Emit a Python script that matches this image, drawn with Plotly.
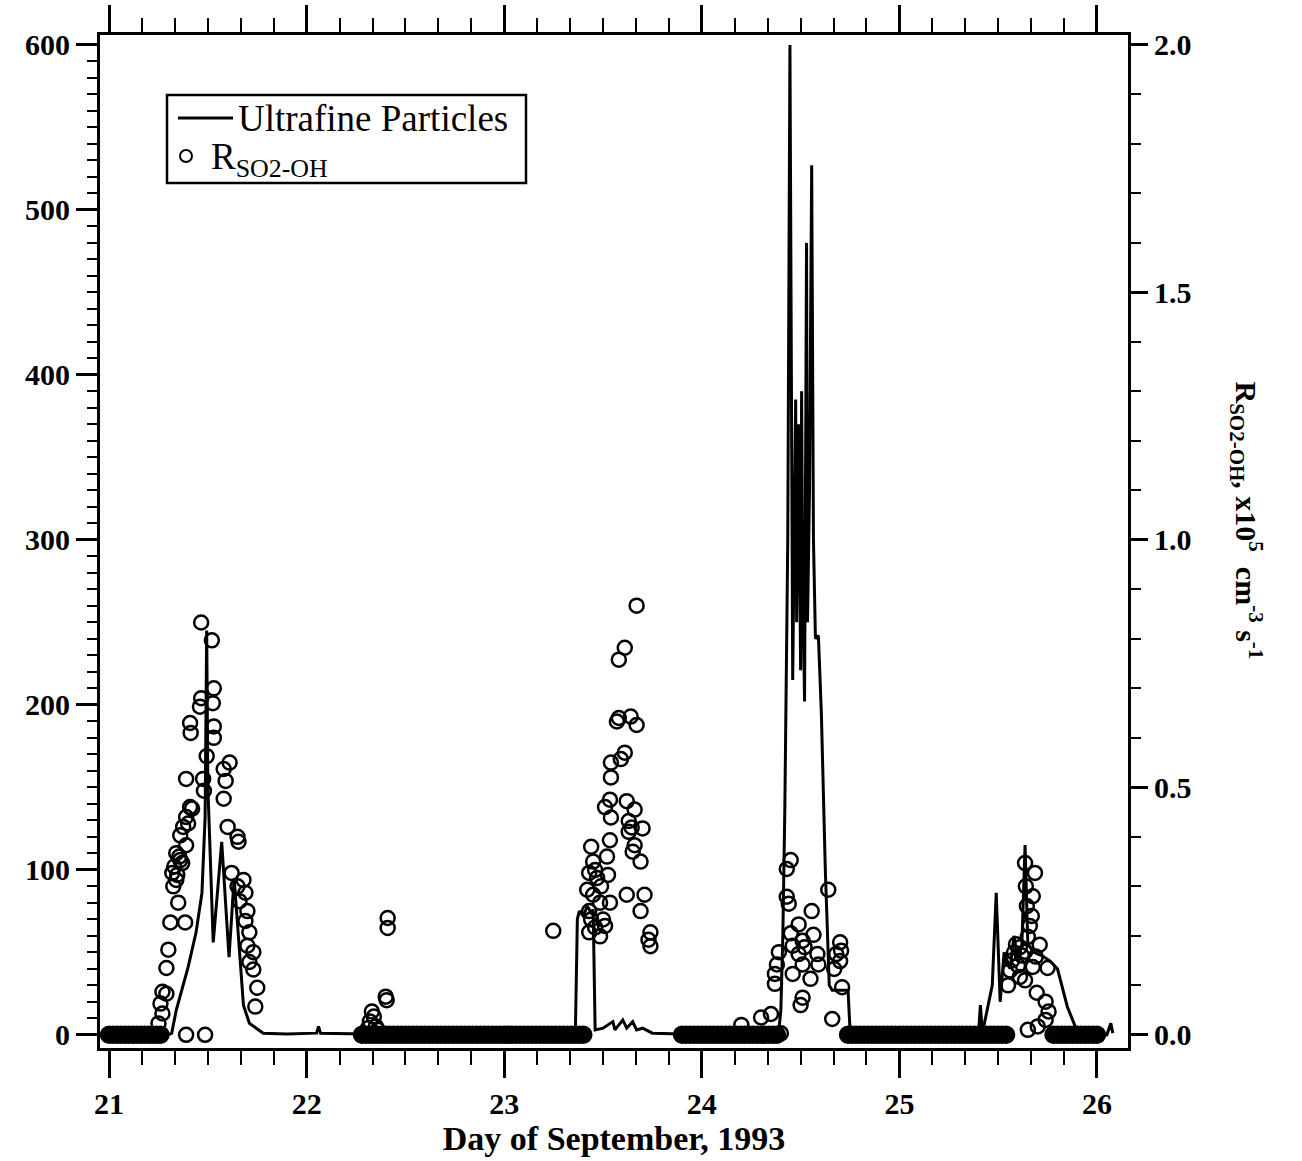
import plotly.graph_objects as go

# ---------------- data ----------------
# Ultrafine particles (left axis)
uf_day = [21.00, 21.30, 21.317, 21.34, 21.40, 21.44, 21.47, 21.486, 21.494, 21.50, 21.527, 21.57, 21.607,
          21.633, 21.68, 21.71, 21.78, 21.90, 22.05, 22.06, 22.07, 22.30, 22.60, 23.00, 23.36, 23.37, 23.38,
          23.40, 23.42, 23.44, 23.45, 23.46, 23.50, 23.55, 23.56, 23.60, 23.62, 23.65, 23.67, 23.70, 23.75,
          23.90, 24.30, 24.36, 24.39, 24.40, 24.41, 24.42, 24.435, 24.446, 24.455, 24.46, 24.475, 24.48,
          24.49, 24.50, 24.505, 24.51, 24.52, 24.53, 24.535, 24.545, 24.556, 24.565, 24.575, 24.59, 24.605,
          24.625, 24.645, 24.66, 24.74, 24.75, 25.00, 25.40, 25.41, 25.42, 25.47, 25.49, 25.51, 25.53,
          25.56, 25.58, 25.60, 25.62, 25.636, 25.65, 25.68, 25.72, 25.76, 25.80, 25.85, 25.89, 25.95,
          26.05, 26.07, 26.08]
uf_val = [0, 0, 1, 15, 41, 62, 86, 132, 245, 150, 56, 117, 47,
          95, 18, 7, 1, 0.5, 1, 5, 1, 0.5, 1, 1, 1, 70, 75,
          72, 78, 74, 76, 3, 4, 8, 3, 9, 4, 8, 3, 4, 1,
          0.5, 0.5, 1, 3, 15, 60, 136, 300, 600, 380, 215, 385, 250,
          370, 221, 390, 280, 202, 480, 250, 330, 527, 300, 240, 242, 195,
          100, 30, 27, 27, 3, 0.5, 0.5, 18, 1, 30, 86, 20, 50,
          40, 60, 45, 55, 115, 55, 50, 48, 45, 40, 17, 5, 1,
          0, 7, 1]

# R_SO2-OH (right axis, x10^5 cm-3 s-1) - non-zero observations
r_day = [21.466, 21.52, 21.53, 21.466, 21.525, 21.46, 21.41, 21.53, 21.413, 21.53, 21.494, 21.61, 21.58,
         21.59, 21.39, 21.58, 21.476, 21.48, 21.41, 21.39, 21.375, 21.36, 21.60, 21.65, 21.655, 21.39,
         21.34, 21.36, 21.33, 21.32, 21.34, 21.325, 21.35, 21.31, 21.385, 21.30, 21.29, 21.27, 21.29,
         21.26, 21.27, 21.25, 21.39, 21.486, 21.62, 21.68, 21.65, 21.69, 21.66, 21.70, 21.69, 21.71,
         21.70, 21.73, 21.71, 21.73, 21.75, 21.74, 21.355, 21.37, 21.345, 21.40, 21.42,
         22.41, 22.41, 22.40, 22.405, 22.34, 22.32, 22.33, 22.35, 22.36, 22.31, 23.248,
         23.67, 23.61, 23.58, 23.57, 23.58, 23.64, 23.67, 23.61, 23.59, 23.54, 23.54, 23.535, 23.51,
         23.54, 23.62, 23.66, 23.63, 23.645, 23.70, 23.63, 23.66, 23.65, 23.69, 23.535, 23.44, 23.52,
         23.45, 23.43, 23.525, 23.42, 23.49, 23.62, 23.71, 23.485, 23.535, 23.69, 23.50, 23.51, 23.74,
         23.73, 23.74, 23.485, 23.43, 23.44, 23.46, 23.45, 23.47, 23.43, 23.46,
         24.45, 24.43, 24.64, 24.43, 24.44, 24.556, 24.49, 24.45, 24.565, 24.51, 24.70, 24.705, 24.52,
         24.46, 24.585, 24.49, 24.68, 24.70, 24.39, 24.38, 24.51, 24.59, 24.46, 24.67, 24.37, 24.55,
         24.37, 24.71, 24.51, 24.50, 24.35, 24.66, 24.20, 24.30, 24.40,
         25.636, 25.686, 25.675, 25.67, 25.66, 25.65, 25.61, 25.71, 25.58, 25.636, 25.69, 25.56, 25.675,
         25.75, 25.61, 25.636, 25.695, 25.74, 25.755, 25.65, 25.70, 25.74, 25.57, 25.59, 25.60, 25.62,
         25.55, 25.64, 25.645]
r_val = [0.833, 0.797, 0.70, 0.68, 0.67, 0.663, 0.63, 0.623, 0.61, 0.60, 0.563, 0.55, 0.537,
         0.513, 0.517, 0.477, 0.517, 0.493, 0.46, 0.44, 0.42, 0.403, 0.42, 0.40, 0.39, 0.383,
         0.367, 0.353, 0.34, 0.327, 0.313, 0.30, 0.267, 0.227, 0.227, 0.172, 0.135, 0.087, 0.083,
         0.063, 0.043, 0.023, 0.0, 0.0, 0.327, 0.313, 0.30, 0.287, 0.27, 0.25, 0.23, 0.207,
         0.18, 0.167, 0.147, 0.132, 0.095, 0.057, 0.36, 0.347, 0.323, 0.427, 0.457,
         0.236, 0.216, 0.077, 0.07, 0.037, 0.027, 0.047, 0.017, 0.01, 0.013, 0.21,
         0.867, 0.782, 0.758, 0.633, 0.64, 0.643, 0.626, 0.57, 0.557, 0.55, 0.52, 0.475, 0.46,
         0.439, 0.472, 0.455, 0.432, 0.419, 0.417, 0.41, 0.383, 0.37, 0.35, 0.393, 0.38, 0.36,
         0.35, 0.327, 0.323, 0.293, 0.30, 0.283, 0.283, 0.267, 0.267, 0.25, 0.233, 0.22, 0.207,
         0.192, 0.179, 0.199, 0.25, 0.233, 0.217, 0.283, 0.317, 0.207, 0.333,
         0.353, 0.335, 0.293, 0.279, 0.265, 0.25, 0.223, 0.205, 0.202, 0.19, 0.187, 0.17, 0.177,
         0.18, 0.163, 0.163, 0.163, 0.149, 0.167, 0.142, 0.142, 0.142, 0.123, 0.133, 0.123, 0.113,
         0.103, 0.096, 0.075, 0.06, 0.042, 0.032, 0.02, 0.035, 0.003,
         0.347, 0.327, 0.28, 0.24, 0.22, 0.198, 0.177, 0.182, 0.166, 0.168, 0.158, 0.13, 0.137,
         0.135, 0.117, 0.11, 0.085, 0.067, 0.047, 0.01, 0.017, 0.03, 0.15, 0.183, 0.14, 0.16,
         0.10, 0.30, 0.26]

# R_SO2-OH observations reading zero (night-time runs)
r_zero_day = [21.00, 21.02, 21.04, 21.06, 21.08, 21.10, 21.12, 21.14, 21.16, 21.18, 21.20, 21.22, 21.24, 21.26,
              22.28, 22.30, 22.32, 22.34, 22.36, 22.38, 22.40, 22.42, 22.44, 22.46, 22.48, 22.50, 22.52,
              22.54, 22.56, 22.58, 22.60, 22.62, 22.64, 22.66, 22.68, 22.70, 22.72, 22.74, 22.76, 22.78,
              22.80, 22.82, 22.84, 22.86, 22.88, 22.90, 22.92, 22.94, 22.96, 22.98, 23.00, 23.02, 23.04,
              23.06, 23.08, 23.10, 23.12, 23.14, 23.16, 23.18, 23.20, 23.22, 23.24, 23.26, 23.28, 23.30,
              23.32, 23.34, 23.36, 23.38, 23.40,
              23.90, 23.92, 23.94, 23.96, 23.98, 24.00, 24.02, 24.04, 24.06, 24.08, 24.10, 24.12, 24.14,
              24.16, 24.18, 24.20, 24.22, 24.24, 24.26, 24.28, 24.30, 24.32, 24.34, 24.36, 24.38,
              24.74, 24.76, 24.78, 24.80, 24.82, 24.84, 24.86, 24.88, 24.90, 24.92, 24.94, 24.96, 24.98,
              25.00, 25.02, 25.04, 25.06, 25.08, 25.10, 25.12, 25.14, 25.16, 25.18, 25.20, 25.22, 25.24,
              25.26, 25.28, 25.30, 25.32, 25.34, 25.36, 25.38, 25.40, 25.42, 25.44, 25.46, 25.48, 25.50,
              25.52, 25.54,
              25.78, 25.80, 25.82, 25.84, 25.86, 25.88, 25.90, 25.92, 25.94, 25.96, 25.98, 26.00]
r_zero_val = [0.0] * len(r_zero_day)

x_ticks = [21, 22, 23, 24, 25, 26]
left_ticks = [0, 100, 200, 300, 400, 500, 600]
right_ticks = [0.0, 0.5, 1.0, 1.5, 2.0]

# ---------------- figure ----------------
FONT = "Liberation Serif"
L, R, T, B = 100, 174, 35, 113
W, H = 1302, 1161
PW, PH = W - L - R, H - T - B


def px(xp):
    return (xp - L) / PW


def py(yp):
    return (H - B - yp) / PH


fig = go.Figure()

fig.add_trace(go.Scatter(
    x=uf_day, y=uf_val, mode="lines", name="Ultrafine Particles",
    line=dict(color="black", width=3), yaxis="y"))

fig.add_trace(go.Scatter(
    x=r_zero_day, y=r_zero_val, mode="markers", name="R<sub>SO2-OH</sub> (zero)", yaxis="y2",
    marker=dict(symbol="circle-open", size=14, color="black", line=dict(width=4.5, color="black"))))

fig.add_trace(go.Scatter(
    x=r_day, y=r_val, mode="markers", name="R<sub>SO2-OH</sub>", yaxis="y2",
    marker=dict(symbol="circle-open", size=14, color="black", line=dict(width=2.5, color="black"))))

tickfont = dict(family=FONT, size=30, color="black", weight="bold")

fig.update_layout(
    width=W, height=H,
    margin=dict(l=L, r=R, t=T, b=B, autoexpand=False),
    paper_bgcolor="white", plot_bgcolor="white",
    showlegend=False,
    xaxis=dict(
        range=[20.954, 26.157], tickvals=x_ticks, ticktext=[str(v) for v in x_ticks],
        ticks="outside", ticklen=27, tickwidth=2.5, tickcolor="black",
        minor=dict(dtick=1/6, tick0=21, ticks="outside", ticklen=14, tickwidth=2, tickcolor="black"),
        showline=True, linewidth=3, linecolor="black", mirror="ticks", automargin=False,
        showgrid=False, zeroline=False, tickfont=tickfont,
        title=dict(text="Day of September, 1993", standoff=8,
                   font=dict(family=FONT, size=34, color="black", weight="bold"))),
    yaxis=dict(
        range=[-8, 606], tickvals=left_ticks, automargin=False,
        ticks="outside", ticklen=21, tickwidth=2.5, tickcolor="black",
        minor=dict(dtick=10, tick0=0, ticks="outside", ticklen=10, tickwidth=2, tickcolor="black"),
        showline=True, linewidth=3, linecolor="black",
        showgrid=False, zeroline=False, tickfont=tickfont),
    yaxis2=dict(
        range=[-8/300, 606/300], tickvals=right_ticks, tickformat=".1f", automargin=False,
        overlaying="y", side="right", anchor="x",
        ticks="outside", ticklen=17, tickwidth=2.5, tickcolor="black",
        minor=dict(dtick=0.1, tick0=0, ticks="outside", ticklen=10, tickwidth=2, tickcolor="black"),
        showline=True, linewidth=3, linecolor="black",
        showgrid=False, zeroline=False, tickfont=tickfont),
)

# legend box (drawn by hand to match the original layout)
fig.add_shape(type="rect", xref="paper", yref="paper",
              x0=px(167), x1=px(526), y0=py(183), y1=py(95),
              line=dict(color="black", width=2.5), fillcolor="white", layer="above")
fig.add_shape(type="line", xref="paper", yref="paper",
              x0=px(178), x1=px(233), y0=py(118), y1=py(118),
              line=dict(color="black", width=3), layer="above")
fig.add_shape(type="circle", xref="paper", yref="paper",
              xsizemode="pixel", ysizemode="pixel", xanchor=px(186), yanchor=py(156),
              x0=-6, x1=6, y0=-6, y1=6, line=dict(color="black", width=2), layer="above")
fig.add_annotation(text="Ultrafine Particles", xref="paper", yref="paper",
                   x=px(236), y=py(118), xanchor="left", yanchor="middle", showarrow=False,
                   font=dict(family=FONT, size=37, color="black"))
fig.add_annotation(text="R<sub>SO2-OH</sub>", xref="paper", yref="paper",
                   x=px(209), y=py(160), xanchor="left", yanchor="middle", showarrow=False,
                   font=dict(family=FONT, size=37, color="black"))

fig.add_annotation(
    text="R<sub>SO2-OH</sub>, x10<sup>5</sup>  cm<sup>-3</sup> s<sup>-1</sup>",
    xref="paper", yref="paper", x=px(1270), y=py(520), textangle=90, showarrow=False,
    font=dict(family=FONT, size=30, color="black", weight="bold"))

fig.write_html("out.html")
